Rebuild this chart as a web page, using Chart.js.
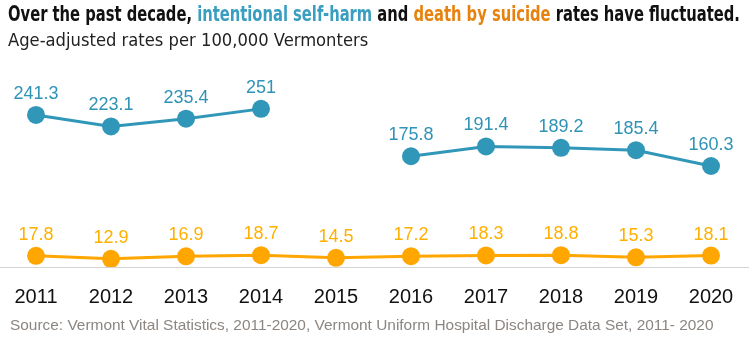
<!DOCTYPE html>
<html>
<head>
<meta charset="utf-8">
<script src="https://cdn.jsdelivr.net/npm/chart.js@4"></script>
<style>
  html, body { margin: 0; padding: 0; background: #fff; }
  #wrap { position: relative; width: 749px; height: 337px; overflow: hidden; }
  #chart { position: absolute; left: 0; top: 0; }
  .fit { position: absolute; white-space: nowrap; transform-origin: 0 0; }
  .title { left: 8px; top: 1px; font: bold 22px "DejaVu Sans Condensed", "Liberation Sans", sans-serif; color: #111; }
  .title .harm { color: #3a9ec0; }
  .title .suicide { color: #e8820e; }
  .sub { left: 8px; top: 29px; font: 18px "DejaVu Sans Condensed", "Liberation Sans", sans-serif; color: #222; }
  .source { left: 10px; top: 316px; font: 15px "Liberation Sans", sans-serif; color: #8c8580; }
</style>
</head>
<body>
<div id="wrap">
  <canvas id="chart" width="749" height="337"></canvas>
  <div class="fit title" data-w="732">Over the past decade, <span class="harm">intentional self-harm</span> and <span class="suicide">death by suicide</span> rates have fluctuated.</div>
  <div class="fit sub" data-w="360">Age-adjusted rates per 100,000 Vermonters</div>
  <div class="fit source" data-w="704">Source: Vermont Vital Statistics, 2011-2020, Vermont Uniform Hospital Discharge Data Set, 2011- 2020</div>
</div>
<script>
/* ── Data ────────────────────────────────────────────────── */

const years = ['2011', '2012', '2013', '2014', '2015', '2016', '2017', '2018', '2019', '2020'];
const selfHarm = [241.3, 223.1, 235.4, 251, null, 175.8, 191.4, 189.2, 185.4, 160.3];
const suicide = [17.8, 12.9, 16.9, 18.7, 14.5, 17.2, 18.3, 18.8, 15.3, 18.1];

const BLUE = '#3197b8';
const ORANGE = '#ffa600';

// squeeze the text blocks to the reference widths
document.querySelectorAll('.fit').forEach((el) => {
  const target = Number(el.dataset.w);
  el.style.transform = `scaleX(${target / el.scrollWidth})`;
});

/* ── Plugins ─────────────────────────────────────────────── */

// value labels above each point
const valueLabels = {
  id: 'valueLabels',
  afterDatasetsDraw(chart) {
    const ctx = chart.ctx;
    ctx.save();
    ctx.font = '18px "Liberation Sans", sans-serif';
    ctx.textAlign = 'center';
    ctx.textBaseline = 'alphabetic';
    chart.data.datasets.forEach((ds, i) => {
      const meta = chart.getDatasetMeta(i);
      ctx.fillStyle = ds.labelColor;
      meta.data.forEach((pt, j) => {
        const v = ds.data[j];
        if (v === null) return;
        ctx.fillText(String(v), pt.x, pt.y - 16);
      });
    });
    ctx.restore();
  },
};

// grey baseline running the full width
const baseline = {
  id: 'baseline',
  beforeDatasetsDraw(chart) {
    const ctx = chart.ctx;
    const y = Math.round(chart.scales.y.getPixelForValue(0)) + 0.5;
    ctx.save();
    ctx.strokeStyle = '#d4d4d4';
    ctx.lineWidth = 1;
    ctx.beginPath();
    ctx.moveTo(0, y);
    ctx.lineTo(chart.width, y);
    ctx.stroke();
    ctx.restore();
  },
};

/* ── Chart ───────────────────────────────────────────────── */

const ctx = document.getElementById('chart').getContext('2d');
// eslint-disable-next-line no-undef
new Chart(ctx, {
  type: 'line',
  data: {
    labels: years,
    datasets: [
      {
        data: selfHarm,
        borderColor: BLUE,
        backgroundColor: BLUE,
        labelColor: '#2f93b5',
        borderWidth: 3,
        pointRadius: 9,
        pointHoverRadius: 0,
        pointBorderWidth: 0,
        spanGaps: false,
        tension: 0,
      },
      {
        data: suicide,
        borderColor: ORANGE,
        backgroundColor: ORANGE,
        labelColor: '#ffb000',
        borderWidth: 3,
        pointRadius: 9,
        pointHoverRadius: 0,
        pointBorderWidth: 0,
        tension: 0,
      },
    ],
  },
  options: {
    responsive: false,
    animation: false,
    events: [],
    layout: { padding: { left: 36, right: 38, top: 78, bottom: 25 } },
    plugins: {
      legend: { display: false },
      tooltip: { enabled: false },
    },
    scales: {
      x: {
        offset: false,
        // invisible tick marks push the year labels down without widening the side padding
        grid: { display: true, color: 'transparent', drawOnChartArea: false, drawTicks: true, tickLength: 15 },
        border: { display: false },
        ticks: { color: '#111', padding: 3, font: { size: 20, family: '"Liberation Sans", sans-serif' } },
      },
      y: {
        display: false,
        min: 0,
        max: 300,
      },
    },
  },
  plugins: [baseline, valueLabels],
});
</script>
</body>
</html>
